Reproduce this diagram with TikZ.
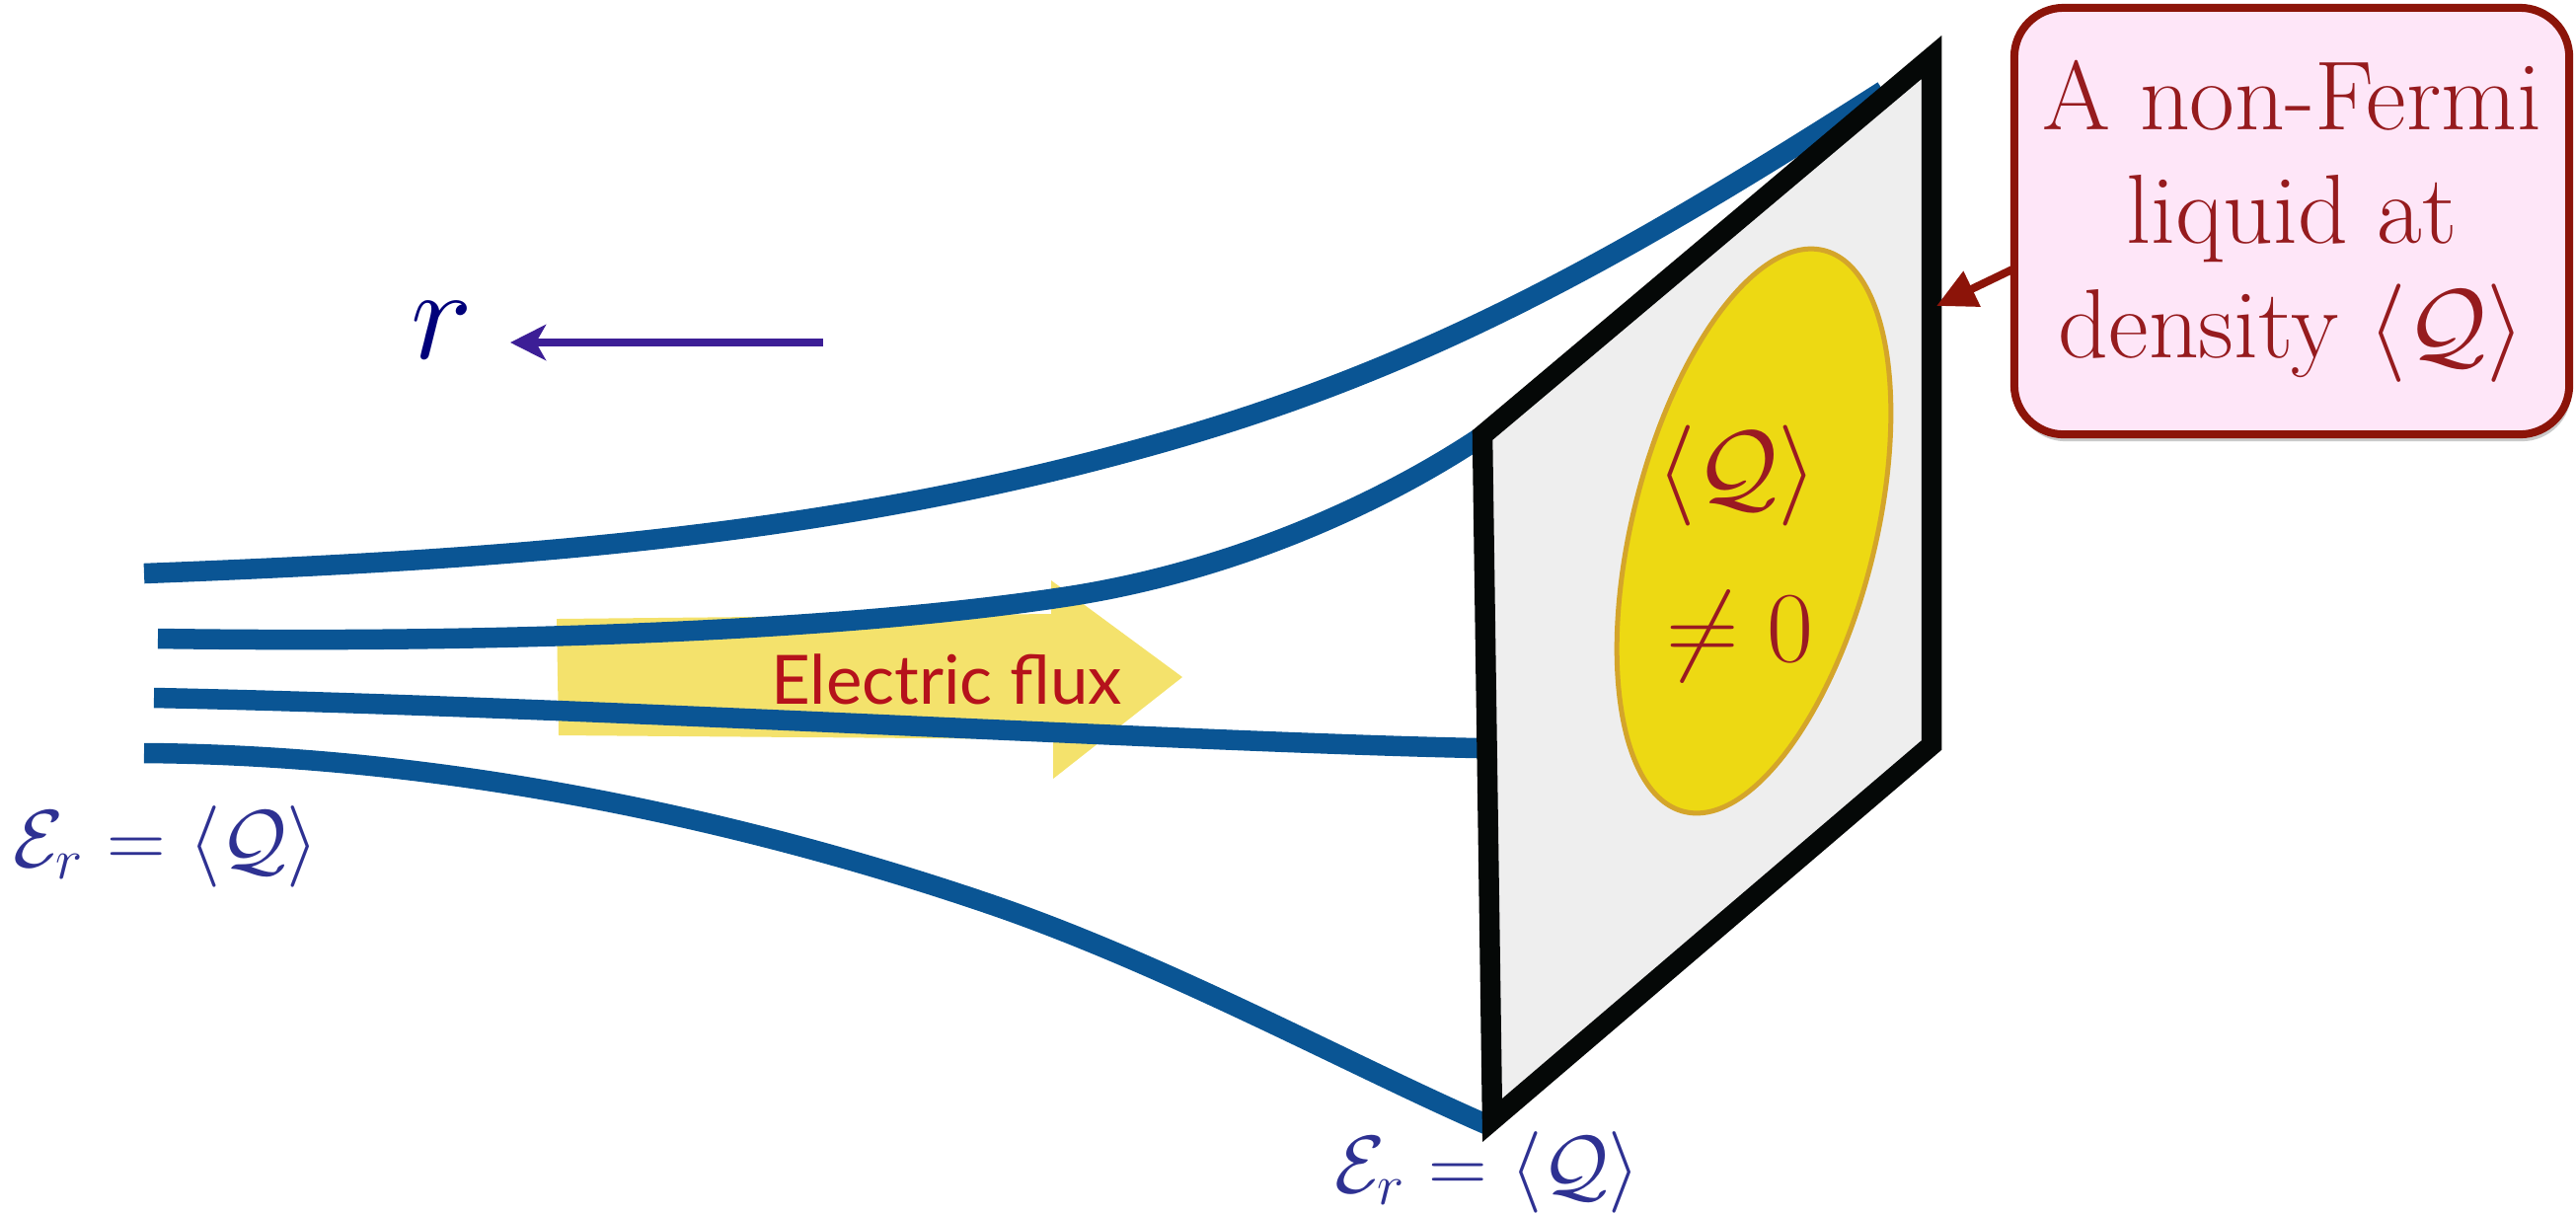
\RequirePackage{fix-cm}
\documentclass[tikz,border=0pt]{standalone}
\usepackage{fontspec}
\newfontfamily\fluxfont{Lato}
\usetikzlibrary{arrows.meta,shadows}
\definecolor{fieldblue}{HTML}{0A5594}
\definecolor{planegray}{HTML}{EEEEEE}
\definecolor{planeblack}{HTML}{050807}
\definecolor{blobyellow}{HTML}{EDD913}
\definecolor{blobgold}{HTML}{D4A52A}
\definecolor{qred}{HTML}{9A1A22}
\definecolor{boxpink}{HTML}{FEE6F8}
\definecolor{boxborder}{HTML}{8C1409}
\definecolor{boxtext}{HTML}{961B1E}
\definecolor{labelblue}{HTML}{2E3192}
\definecolor{rnavy}{HTML}{00007A}
\definecolor{rarrowcol}{HTML}{3C1E96}
\definecolor{fluxyellow}{HTML}{F4E26C}
\definecolor{fluxred}{HTML}{B5121B}
\tikzset{
  fieldline/.style={draw=fieldblue, line width=0.205cm},
  planestyle/.style={draw=planeblack, fill=planegray, line width=0.205cm, line join=miter},
  blobstyle/.style={draw=blobgold, fill=blobyellow, line width=0.05cm},
  qtext/.style={text=qred, font=\fontsize{29}{34}\selectfont, inner sep=0pt},
  callout/.style={draw=boxborder, fill=boxpink, line width=0.08cm, rounded corners=0.5cm,
    minimum width=5.62cm, minimum height=4.32cm, align=center, text=boxtext,
    font=\fontsize{28.3}{32.8}\selectfont,
    drop shadow={shadow xshift=0.02cm, shadow yshift=-0.07cm, opacity=0.35, fill=black!60}},
  calloutarrow/.style={draw=boxborder, line width=0.08cm, -{Triangle[length=0.4cm,width=0.38cm]}},
  elabel/.style={text=labelblue, font=\fontsize{23.5}{27}\selectfont, inner sep=0pt},
  rlabel/.style={text=rnavy, font=\fontsize{38}{42}\selectfont, inner sep=0pt},
  rarrow/.style={draw=rarrowcol, line width=0.08cm, -{Stealth[length=0.36cm,width=0.36cm,inset=0.1cm]}},
  fluxlabel/.style={text=fluxred, font=\fluxfont\fontsize{19.6}{22}\selectfont, inner sep=0pt}
}
\begin{document}
\begin{tikzpicture}[x=0.01cm,y=-0.01cm]
\useasboundingbox (0,0) rectangle (2610,1229);

% yellow flux arrow
\fill[fluxyellow] (564,627) -- (1065,622) -- (1065,588) -- (1198,686) -- (1067,789) -- (1067,749) -- (566,745) -- cycle;
\node[fluxlabel, anchor=base] (flux) at (959,713) {Electric flux};

% field lines
\draw[fieldline] (146,581) .. controls (481,568) and (815,548) .. (1150,456)
                 .. controls (1430,380) and (1628,271) .. (1908,92);
\draw[fieldline] (160,647) .. controls (500,652) and (850,640) .. (1084,604)
                 .. controls (1250,578) and (1400,510) .. (1503,441);
\draw[fieldline] (156,707) .. controls (600,716) and (1200,752) .. (1498,758);
\draw[fieldline] (146,763) .. controls (450,765) and (750,830) .. (1000,915)
                 .. controls (1180,976) and (1370,1080) .. (1508,1140);

% plane
\filldraw[planestyle] (1502,441) -- (1957,58) -- (1957,755) -- (1512,1135) -- cycle;

% blob
\filldraw[blobstyle, rotate around={76:(1777,538)}] (1777,538) ellipse [x radius=293, y radius=123];
\node[qtext] (qmean) at (1760,482) {$\langle\mathcal{Q}\rangle$};
\node[qtext] (qne) at (1763,645) {$\neq 0$};

% callout
\node[callout] (box) at (2322,224) {A non-Fermi\\liquid at\\density $\langle\mathcal{Q}\rangle$};
\coordinate (boxfoot) at (2041,272);
\coordinate (planehit) at (1962,310);
\draw[calloutarrow] (boxfoot) -- (planehit);

% r arrow
\node[rlabel] (r) at (448,335) {$r$};
\coordinate (rstart) at (834,347);
\coordinate (rtip) at (517,347);
\draw[rarrow] (rstart) -- (rtip);

% labels
\node[elabel, anchor=base] (eleft) at (168,878) {$\mathcal{E}_r = \langle\mathcal{Q}\rangle$};
\node[elabel, anchor=base] (ebottom) at (1507,1208) {$\mathcal{E}_r = \langle\mathcal{Q}\rangle$};
\end{tikzpicture}
\end{document}
